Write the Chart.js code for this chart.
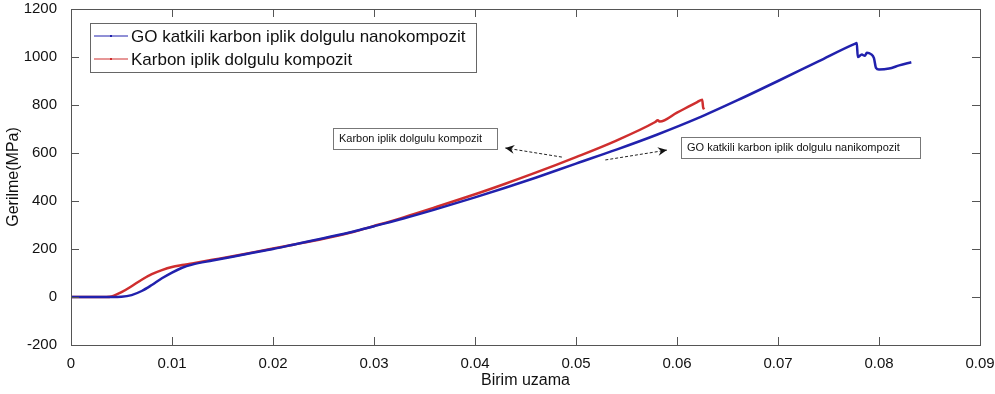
<!DOCTYPE html>
<html>
<head>
<meta charset="utf-8">
<script src="https://cdn.jsdelivr.net/npm/chart.js@4"></script>
<style>
  html, body { margin: 0; padding: 0; background: #fff; }
  #wrap { width: 995px; height: 394px; }
</style>
</head>
<body>
<div id="wrap"><canvas id="strainChart" width="995" height="394"></canvas></div>
<script>
// data
const blueX = [0, 0.002, 0.004, 0.005, 0.006, 0.007, 0.008, 0.009, 0.010, 0.011, 0.012, 0.014, 0.016, 0.018, 0.020, 0.022, 0.025, 0.028, 0.030, 0.033, 0.036, 0.040, 0.043, 0.046, 0.050, 0.054, 0.058, 0.062, 0.066, 0.070, 0.074, 0.0776, 0.0778, 0.0779, 0.0783, 0.0786, 0.0788, 0.0792, 0.0795, 0.0797, 0.0800, 0.0810, 0.0820, 0.0832];
const blueY = [0, 0, 0, 1, 8, 25, 50, 78, 102, 122, 135, 152, 168, 184, 200, 218, 245, 273, 295, 328, 364, 415, 455, 497, 556, 614, 676, 744, 820, 900, 982, 1055, 1058, 1000, 1010, 1005, 1018, 1012, 995, 955, 948, 952, 965, 978];

const redX = [0, 0.0035, 0.004, 0.005, 0.006, 0.007, 0.008, 0.009, 0.010, 0.011, 0.012, 0.014, 0.016, 0.018, 0.020, 0.022, 0.025, 0.028, 0.030, 0.033, 0.036, 0.040, 0.043, 0.046, 0.050, 0.054, 0.0578, 0.0581, 0.0583, 0.060, 0.062, 0.0625, 0.0626, 0.0627];
const redY = [0, 0, 2, 20, 45, 72, 95, 112, 125, 133, 140, 155, 170, 186, 202, 218, 243, 272, 296, 333, 373, 428, 472, 518, 583, 652, 728, 736, 731, 768, 812, 822, 785, 790];

const seriesNames = ['GO katkili karbon iplik dolgulu nanokompozit', 'Karbon iplik dolgulu kompozit'];
const seriesColors = ['#2121ad', '#cf2e2e'];

const xTicks = [0, 0.01, 0.02, 0.03, 0.04, 0.05, 0.06, 0.07, 0.08, 0.09];
const yTicks = [-200, 0, 200, 400, 600, 800, 1000, 1200];

// text boxes with dashed arrows, anchored in data units
const notes = [
  { text: 'Karbon iplik dolgulu kompozit', box: [0.0259, 704], w: 164, from: [0.0486, 583], to: [0.0430, 621] },
  { text: 'GO katkili karbon iplik dolgulu nanikompozit', box: [0.0604, 667], w: 239, from: [0.0529, 571], to: [0.0590, 612] }
];

const toPts = (xs, ys) => xs.map((x, i) => ({ x: x, y: ys[i] }));

const frameAndTicks = {
  id: 'frameAndTicks',
  afterDraw(chart) {
    const { ctx, chartArea: a, scales } = chart;
    ctx.save();
    ctx.strokeStyle = '#555';
    ctx.lineWidth = 1;
    ctx.strokeRect(a.left + 0.5, a.top + 0.5, a.right - a.left, a.bottom - a.top);
    ctx.beginPath();
    xTicks.forEach(v => {
      const px = Math.round(scales.x.getPixelForValue(v)) + 0.5;
      ctx.moveTo(px, a.bottom); ctx.lineTo(px, a.bottom - 8);
      ctx.moveTo(px, a.top); ctx.lineTo(px, a.top + 8);
    });
    yTicks.forEach(v => {
      const py = Math.round(scales.y.getPixelForValue(v)) + 0.5;
      ctx.moveTo(a.left, py); ctx.lineTo(a.left + 8, py);
      ctx.moveTo(a.right, py); ctx.lineTo(a.right - 8, py);
    });
    ctx.stroke();

    // legend box
    const lx = 90, ly = 23, lw = 386, lh = 49;
    ctx.fillStyle = '#fff';
    ctx.fillRect(lx, ly, lw, lh);
    ctx.strokeStyle = '#666';
    ctx.strokeRect(lx + 0.5, ly + 0.5, lw, lh);
    ctx.font = '17px "Liberation Sans", Arial, sans-serif';
    ctx.textBaseline = 'middle';
    seriesNames.forEach((name, i) => {
      const yy = ly + 13 + i * 23;
      ctx.strokeStyle = seriesColors[i];
      ctx.lineWidth = 1;
      ctx.beginPath(); ctx.moveTo(lx + 4, yy); ctx.lineTo(lx + 38, yy); ctx.stroke();
      ctx.fillStyle = seriesColors[i];
      ctx.fillRect(lx + 20, yy - 1, 2, 2);
      ctx.fillStyle = '#111';
      ctx.fillText(name, lx + 41, yy + 1);
    });

    // annotations
    ctx.font = '11px "Liberation Sans", Arial, sans-serif';
    notes.forEach(n => {
      const bx = Math.round(scales.x.getPixelForValue(n.box[0]));
      const by = Math.round(scales.y.getPixelForValue(n.box[1]));
      const bw = n.w, bh = 21;
      ctx.fillStyle = '#fff';
      ctx.fillRect(bx, by, bw, bh);
      ctx.strokeStyle = '#777';
      ctx.lineWidth = 1;
      ctx.strokeRect(bx + 0.5, by + 0.5, bw, bh);
      ctx.fillStyle = '#111';
      ctx.textBaseline = 'middle';
      ctx.fillText(n.text, bx + 6, by + bh / 2);

      const fx = scales.x.getPixelForValue(n.from[0]), fy = scales.y.getPixelForValue(n.from[1]);
      const tx = scales.x.getPixelForValue(n.to[0]), ty = scales.y.getPixelForValue(n.to[1]);
      ctx.strokeStyle = '#222';
      ctx.setLineDash([3, 2]);
      ctx.beginPath(); ctx.moveTo(fx, fy); ctx.lineTo(tx, ty); ctx.stroke();
      ctx.setLineDash([]);
      const ang = Math.atan2(ty - fy, tx - fx);
      ctx.fillStyle = '#111';
      ctx.beginPath();
      ctx.moveTo(tx, ty);
      ctx.lineTo(tx - 10 * Math.cos(ang - 0.45), ty - 10 * Math.sin(ang - 0.45));
      ctx.lineTo(tx - 6 * Math.cos(ang), ty - 6 * Math.sin(ang));
      ctx.lineTo(tx - 10 * Math.cos(ang + 0.45), ty - 10 * Math.sin(ang + 0.45));
      ctx.closePath();
      ctx.fill();
    });
    ctx.restore();
  }
};

const ctx = document.getElementById('strainChart').getContext('2d');
const tickFont = { family: '"Liberation Sans", Arial, sans-serif', size: 15 };

new Chart(ctx, {
  type: 'scatter',
  data: {
    datasets: [
      { label: seriesNames[0], data: toPts(blueX, blueY), showLine: true, borderColor: seriesColors[0], borderWidth: 2.5, pointRadius: 0, cubicInterpolationMode: 'monotone' },
      { label: seriesNames[1], data: toPts(redX, redY), showLine: true, borderColor: seriesColors[1], borderWidth: 2.5, pointRadius: 0, cubicInterpolationMode: 'monotone' }
    ]
  },
  options: {
    responsive: false,
    animation: false,
    layout: { padding: { top: 9, right: 15, left: 0, bottom: 0 } },
    plugins: { legend: { display: false }, tooltip: { enabled: false } },
    scales: {
      x: {
        type: 'linear', min: 0, max: 0.09,
        afterBuildTicks: s => { s.ticks = xTicks.map(v => ({ value: v })); },
        afterFit: s => { s.height = 49; s.paddingLeft = 0; s.paddingRight = 0; },
        grid: { display: false },
        border: { display: false },
        ticks: { color: '#111', font: tickFont, padding: 2, maxRotation: 0, callback: v => String(v) },
        title: { display: true, text: 'Birim uzama', color: '#111', font: { family: '"Liberation Sans", Arial, sans-serif', size: 16 }, padding: { top: 0 } }
      },
      y: {
        min: -200, max: 1200,
        afterBuildTicks: s => { s.ticks = yTicks.map(v => ({ value: v })); },
        afterFit: s => { s.width = 71; s.paddingTop = 0; s.paddingBottom = 0; },
        grid: { display: false },
        border: { display: false },
        ticks: { color: '#111', font: tickFont, padding: 6, callback: v => String(v) },
        title: { display: true, text: 'Gerilme(MPa)', color: '#111', font: { family: '"Liberation Sans", Arial, sans-serif', size: 16 }, padding: { bottom: 2 } }
      }
    }
  },
  plugins: [frameAndTicks]
});
</script>
</body>
</html>
